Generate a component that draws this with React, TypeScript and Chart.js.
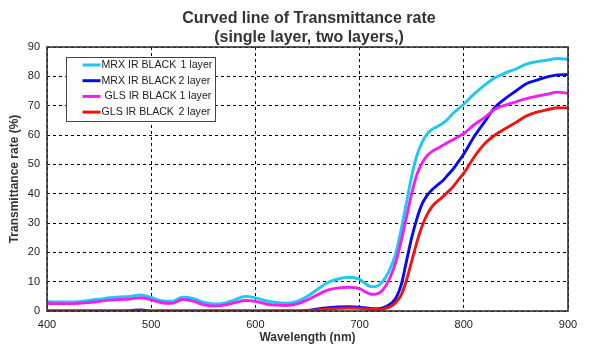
import React, { useEffect, useRef } from "react";
import { Chart, registerables } from "chart.js";

Chart.register(...registerables);

const titleLines = ["Curved line of Transmittance rate", "(single layer, two layers,)"];
const xTitle = "Wavelength (nm)";
const yTitle = "Transmittance rate (%)";

const seriesNames = ["MRX IR BLACK", "MRX IR BLACK", "GLS IR BLACK", "GLS IR BLACK"];
const seriesLayers = ["1 layer", "2 layer", "1 layer", "2 layer"];
const seriesColors = ["#1EC8F0", "#0A0AEE", "#F01EF0", "#F01414"];

// wavelength grid (nm)
const wavelengths = [
  400, 410, 420, 430, 440, 450, 460, 470, 480, 490, 500,
  510, 520, 530, 540, 550, 560, 570, 580, 590, 600,
  610, 620, 630, 640, 650, 660, 670, 680, 690, 700,
  705, 710, 715, 720, 725, 730, 735, 740, 745, 750,
  755, 760, 765, 770, 775, 780, 785, 790, 795, 800,
  810, 820, 830, 840, 850, 860, 870, 880, 890, 900,
];

const mrx1Layer = [
  3.2, 3.1, 3.1, 3.2, 3.6, 4.0, 4.5, 4.8, 5.0, 5.5, 4.6,
  3.5, 3.3, 4.7, 4.3, 3.0, 2.4, 2.7, 3.8, 5.0, 4.5,
  3.5, 2.9, 2.7, 3.3, 5.0, 7.5, 9.8, 11.0, 11.5, 10.8,
  9.5, 8.4, 8.3, 9.3, 11.5, 15, 20, 28, 37, 46,
  53, 57.5, 60.5, 62, 63, 64, 65.5, 67.5, 69, 70.5,
  74, 77, 79.5, 81.2, 82.5, 84.2, 85, 85.5, 86.1, 85.8,
];

const mrx2Layer = [
  0, 0, 0, 0, 0, 0, 0, 0, 0.1, 0.4, 0,
  0, 0, 0, 0, 0, 0, 0, 0, 0, 0,
  0, 0, 0, 0, 0.2, 0.7, 1.1, 1.4, 1.5, 1.3,
  1.1, 0.9, 0.8, 0.9, 1.4, 2.5, 4.5, 9, 17, 25,
  31.5, 36.5, 39.5, 41.5, 43, 44.5, 46.5, 48.5, 51, 53.5,
  59.5, 64.5, 69.5, 72.5, 75, 77.5, 78.7, 79.8, 80.5, 80.6,
];

const gls1Layer = [
  2.6, 2.5, 2.5, 2.6, 2.9, 3.3, 3.7, 3.9, 4.1, 4.5, 3.8,
  2.8, 2.6, 3.9, 3.4, 2.2, 1.7, 2.0, 2.8, 3.6, 3.3,
  2.4, 2.0, 1.9, 2.4, 3.8, 5.6, 7.2, 7.9, 8.1, 7.6,
  6.6, 5.8, 5.7, 6.4, 8.5, 12, 17, 24, 32, 40,
  46.5, 50.5, 53, 54.5, 55.5, 56.5, 57.5, 58.5, 59.5, 60.5,
  63.5, 66, 68.8, 70.2, 71.3, 72.4, 73.2, 73.9, 74.6, 74.2,
];

const gls2Layer = [
  0, 0, 0, 0, 0, 0, 0, 0, 0, 0, 0,
  0, 0, 0, 0, 0, 0, 0, 0, 0, 0,
  0, 0, 0, 0, 0.1, 0.4, 0.7, 0.9, 1.0, 0.9,
  0.8, 0.6, 0.5, 0.6, 0.9, 1.6, 3, 5.5, 10.5, 17,
  23.5, 29, 33, 35.8, 37.5, 39, 40.7, 42.5, 44.8, 47,
  52.5, 57, 60, 62.2, 64.3, 66.5, 67.8, 68.6, 69.3, 69.2,
];

const seriesValues = [mrx1Layer, mrx2Layer, gls1Layer, gls2Layer];
const drawOrder = [3, 2, 1, 0];

const FONT = "'Liberation Sans', Arial, sans-serif";

const legendNameOffsets = [35, 35, 38, 35];
const legendLayerOffsets = [114, 112, 113, 112];

const decorPlugin = {
  id: "decor",
  afterDatasetsDraw(chart: any) {
    const { ctx, chartArea: a } = chart;
    ctx.save();
    // plot frame
    ctx.strokeStyle = "#333333";
    ctx.lineWidth = 1.6;
    ctx.setLineDash([]);
    ctx.strokeRect(a.left, a.top, a.right - a.left, a.bottom - a.top);

    // legend box
    const lx = Math.round(a.left + 19) + 0.5;
    const ly = Math.round(a.top + 10) + 0.5;
    const lw = 149;
    const lh = 64;
    ctx.fillStyle = "#ffffff";
    ctx.fillRect(lx, ly, lw, lh);
    ctx.lineWidth = 1;
    ctx.strokeStyle = "#444444";
    ctx.strokeRect(lx, ly, lw, lh);
    chart.data.datasets.forEach((ds: any, i: number) => {
      const y = ly + 7.5 + i * 15.7;
      ctx.strokeStyle = ds.borderColor;
      ctx.lineWidth = 3;
      ctx.beginPath();
      ctx.moveTo(lx + 16, y);
      ctx.lineTo(lx + 34, y);
      ctx.stroke();
      ctx.fillStyle = "#222222";
      ctx.font = `10.6px ${FONT}`;
      ctx.textBaseline = "middle";
      ctx.textAlign = "left";
      ctx.fillText(seriesNames[i], lx + legendNameOffsets[i], y);
      ctx.fillText(seriesLayers[i], lx + legendLayerOffsets[i], y);
    });

    // title
    ctx.fillStyle = "#333333";
    ctx.font = `bold 16px ${FONT}`;
    ctx.textAlign = "center";
    ctx.textBaseline = "alphabetic";
    ctx.fillText(titleLines[0], 309, 23);
    ctx.fillText(titleLines[1], 309, 42);
    ctx.restore();
  },
};

export default function App() {
  const canvasRef = useRef<HTMLCanvasElement | null>(null);

  useEffect(() => {
    if (!canvasRef.current) return;
    const datasets = seriesValues.map((vals, i) => ({
      label: `${seriesNames[i]} ${seriesLayers[i]}`,
      data: wavelengths.map((w, j) => ({ x: w, y: vals[j] })),
      borderColor: seriesColors[i],
      backgroundColor: seriesColors[i],
      borderWidth: 2.9,
      pointRadius: 0,
      fill: false,
      cubicInterpolationMode: "monotone" as const,
      order: drawOrder[i],
    }));
    const chart = new Chart(canvasRef.current, {
      type: "line",
      data: { datasets },
      plugins: [decorPlugin],
      options: {
        animation: false,
        responsive: false,
        devicePixelRatio: 1,
        layout: { padding: { top: 47, right: 32, bottom: 0, left: 0 } },
        plugins: {
          legend: { display: false },
          title: { display: false },
          tooltip: { enabled: false },
        },
        scales: {
          x: {
            type: "linear",
            min: 400,
            max: 900,
            afterFit: (s: any) => {
              s.height = 39;
            },
            ticks: {
              stepSize: 100,
              padding: 7,
              color: "#222",
              font: { family: FONT, size: 11 },
            },
            grid: {
              color: "#000",
              lineWidth: 1,
              drawTicks: false,
            },
            border: { display: false, dash: [3, 3] },
            title: {
              display: true,
              text: xTitle,
              color: "#333",
              font: { family: FONT, size: 12, weight: "bold" },
              padding: { top: 0, bottom: 5 },
            },
          },
          y: {
            min: 0,
            max: 90,
            afterFit: (s: any) => {
              s.width = 47;
            },
            ticks: {
              stepSize: 10,
              padding: 7,
              color: "#222",
              font: { family: FONT, size: 11 },
            },
            grid: {
              color: "#000",
              lineWidth: 1,
              drawTicks: false,
            },
            border: { display: false, dash: [3, 3] },
            title: {
              display: true,
              text: yTitle,
              color: "#333",
              font: { family: FONT, size: 12, weight: "bold" },
              padding: { top: 7, bottom: 0 },
            },
          },
        },
      } as any,
    });
    return () => chart.destroy();
  }, []);

  return (
    <div style={{ position: "absolute", left: 0, top: 0, width: 600, height: 350, background: "#fff" }}>
      <canvas ref={canvasRef} width={600} height={350} style={{ display: "block" }} />
    </div>
  );
}
